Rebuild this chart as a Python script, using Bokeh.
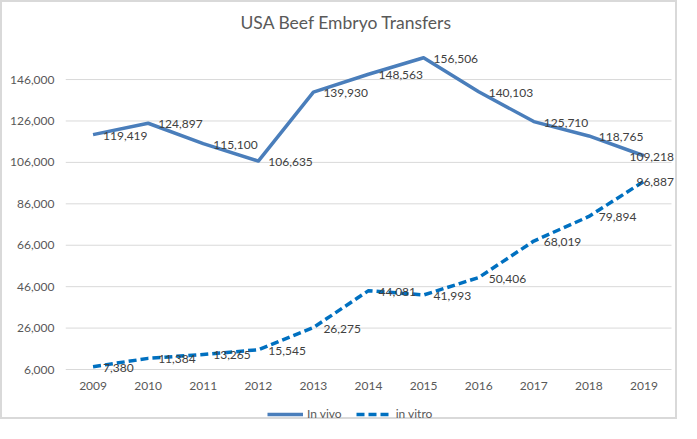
from bokeh.plotting import figure
from bokeh.models import (ColumnDataSource, FixedTicker, NumeralTickFormatter, Legend,
                          LegendItem, Label)
from bokeh.core.properties import value
from bokeh.embed import file_html
from bokeh.resources import INLINE

# ---- data ----
years = [2009, 2010, 2011, 2012, 2013, 2014, 2015, 2016, 2017, 2018, 2019]
in_vivo = [119419, 124897, 115100, 106635, 139930, 148563, 156506, 140103, 125710, 118765, 109218]
in_vitro = [7380, 11384, 13265, 15545, 26275, 44081, 41993, 50406, 68019, 79894, 96887]
y_ticks = [6000, 26000, 46000, 66000, 86000, 106000, 126000, 146000]
series_names = ["In vivo", "in vitro"]
title_text = "USA Beef Embryo Transfers"

# ---- styles ----
FONT = "Lato"
VIVO_COLOR = "#4a7ebb"
VITRO_COLOR = "#0070c0"
GRID = "#d9d9d9"
TICK_TXT = "#595959"
LABEL_TXT = "#404040"

def fmt(v):
    return f"{v:,}"

n = len(years)
label_dx = [10] * (n - 1) + [30]
aligns = ["left"] * (n - 1) + ["right"]

src_vivo = ColumnDataSource(dict(x=years, y=in_vivo, t=[fmt(v) for v in in_vivo], dx=label_dx, al=aligns))
src_vitro = ColumnDataSource(dict(x=years, y=in_vitro, t=[fmt(v) for v in in_vitro], dx=label_dx, al=aligns))

x_lo, x_hi = years[0] - 0.5, years[-1] + 0.5
src_grid = ColumnDataSource(dict(x0=[x_lo] * len(y_ticks), x1=[x_hi] * len(y_ticks), y=y_ticks))

p = figure(width=677, height=419, output_backend="svg", toolbar_location=None,
           x_range=(x_lo, x_hi + 0.145), y_range=(-19100, 183200),
           min_border_left=63, min_border_right=0, min_border_top=0, min_border_bottom=0,
           background_fill_color="white", border_fill_color="white")
p.styles = {"border": "2px solid #d9d9d9"}
p.outline_line_color = None

# axes
p.xaxis.fixed_location = y_ticks[0]
p.xaxis.ticker = FixedTicker(ticks=years)
p.xaxis.axis_line_color = None
p.xaxis.major_tick_line_color = None
p.xaxis.minor_tick_line_color = None
p.xaxis.major_label_standoff = 6
p.xaxis.major_label_text_font = FONT
p.xaxis.major_label_text_font_size = "12px"
p.xaxis.major_label_text_color = TICK_TXT

p.yaxis.ticker = FixedTicker(ticks=y_ticks)
p.yaxis.formatter = NumeralTickFormatter(format="0,0")
p.yaxis.axis_line_color = None
p.yaxis.major_tick_line_color = None
p.yaxis.minor_tick_line_color = None
p.yaxis.major_label_standoff = 5
p.yaxis.major_label_text_font = FONT
p.yaxis.major_label_text_font_size = "12px"
p.yaxis.major_label_text_color = TICK_TXT

p.xgrid.grid_line_color = None
p.ygrid.grid_line_color = None
p.segment("x0", "y", "x1", "y", source=src_grid, line_color=GRID, line_width=1, level="underlay")

r_vivo = p.line("x", "y", source=src_vivo, line_color=VIVO_COLOR, line_width=3.5, line_join="round")
r_vitro = p.line("x", "y", source=src_vitro, line_color=VITRO_COLOR, line_width=3.5,
                 line_dash="8 4", line_join="round")

for src in (src_vivo, src_vitro):
    p.text("x", "y", text="t", source=src, x_offset="dx", y_offset=1,
           text_font=value(FONT), text_font_size="12px", text_color=LABEL_TXT,
           text_align="al", text_baseline="middle", level="overlay")

title = Label(x=175, y=399, x_units="screen", y_units="screen", text=title_text,
              text_font=FONT, text_font_size="17.5px", text_color=TICK_TXT,
              text_align="left", text_baseline="middle")
p.add_layout(title)

legend = Legend(items=[LegendItem(label=series_names[0], renderers=[r_vivo]),
                       LegendItem(label=series_names[1], renderers=[r_vitro])],
                orientation="horizontal", location=(202, 0),
                label_text_font=FONT, label_text_font_size="12px", label_text_color=TICK_TXT,
                glyph_width=36, glyph_height=14, label_standoff=4, spacing=14,
                padding=0, margin=0, border_line_color=None, background_fill_alpha=0)
p.add_layout(legend, "center")

open("out.html", "w").write(file_html(p, INLINE))
